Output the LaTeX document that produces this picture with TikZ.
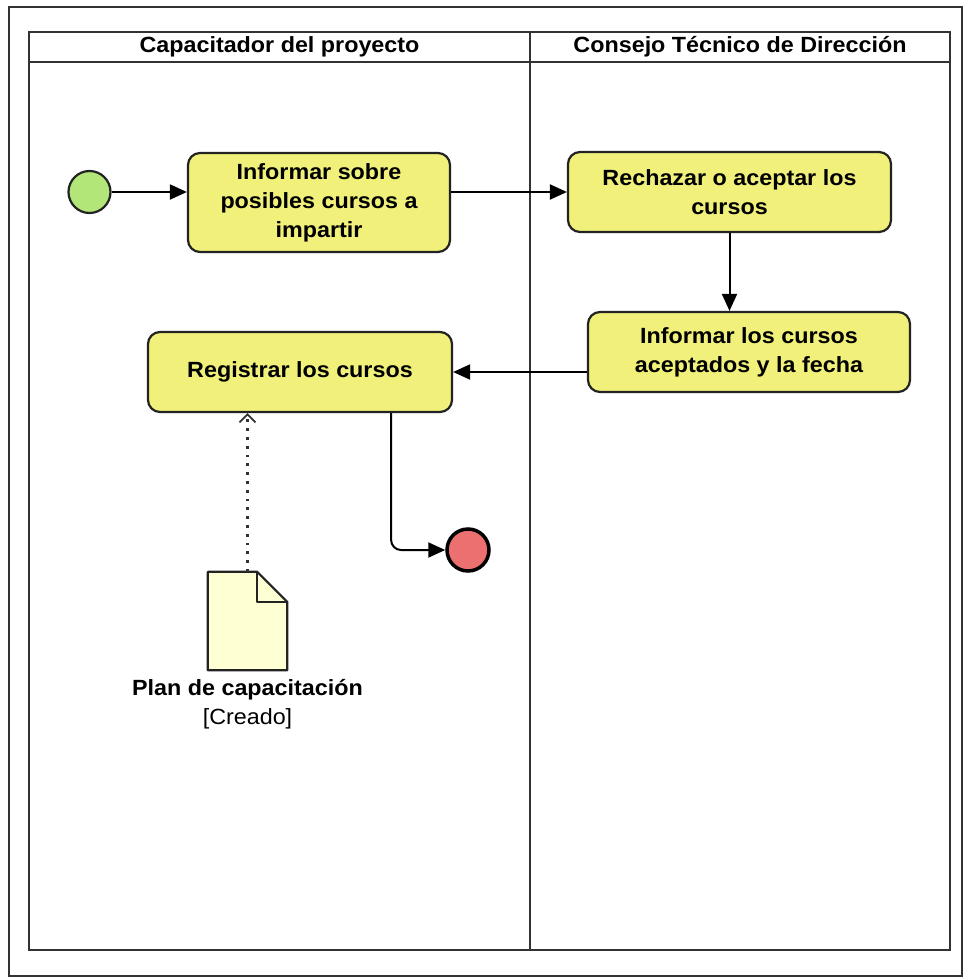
\documentclass[tikz,border=0pt]{standalone}
\usepackage{fontspec}
\setmainfont{Liberation Sans}[FakeStretch=1.06]
\usepackage{xcolor}
\usetikzlibrary{arrows.meta,positioning,calc}

\definecolor{actfill}{RGB}{240,240,122}
\definecolor{initfill}{RGB}{178,230,120}
\definecolor{finalfill}{RGB}{236,112,112}
\definecolor{docfill}{RGB}{255,255,212}
\definecolor{boxline}{RGB}{35,35,35}
\definecolor{laneline}{RGB}{50,50,50}

\begin{document}
\begin{tikzpicture}[x=1pt,y=-1pt,
	>={Triangle[length=17pt,width=15pt]},
	font=\fontsize{22}{29}\selectfont\bfseries]

	\tikzstyle{action}=[rectangle, rounded corners=12pt,
	fill=actfill, draw=boxline, line width=2.2pt, text=black,
	align=center, inner sep=0pt]
	\tikzstyle{flow}=[->, line width=2pt, draw=black]
	\tikzstyle{lane}=[line width=2.5pt, draw=laneline]

	\useasboundingbox (0,0) rectangle (967,977);

	%frame and swimlanes
	\draw[line width=2pt, draw=laneline] (9,7) rectangle (962,976);
	\draw[lane] (29,32) rectangle (950,950);
	\draw[lane] (29,62) -- (950,62);
	\draw[lane] (530,32) -- (530,950);

	\node (laneCap) at (279.5,47) {Capacitador del proyecto};
	\node (laneCons) at (740,47) {Consejo Técnico de Dirección};

	%start state
	\node[circle, minimum size=42pt, inner sep=0pt,
	fill=initfill, draw=boxline, line width=2.2pt]
	(init) at (89.5,192) {};

	\node[action, minimum width=262pt, minimum height=99pt]
	(informCourses) at (319,202.5)
	{Informar sobre\\posibles cursos a\\impartir};

	\node[action, minimum width=323pt, minimum height=80pt]
	(decideCourses) at (729.5,192)
	{Rechazar o aceptar los\\cursos};

	\node[action, minimum width=322pt, minimum height=80pt]
	(notifyCourses) at (749,352)
	{Informar los cursos\\aceptados y la fecha};

	\node[action, minimum width=304pt, minimum height=80pt]
	(registerCourses) at (300,372)
	{Registrar los cursos};

	%final state
	\node[circle, minimum size=42pt, inner sep=0pt,
	fill=finalfill, draw=black, line width=3.5pt]
	(final) at (468,550) {};

	%object node
	\node[minimum width=79pt, minimum height=98pt, inner sep=0pt]
	(plan) at (247.5,621) {};
	\draw[line width=2.2pt, draw=boxline, fill=docfill, line join=round]
		(plan.north west)
		-- ($(plan.north east) + (-30, 0)$)
		-- ($(plan.north east) + (0, 30)$)
		-- (plan.south east)
		-- (plan.south west) -- cycle;
	\draw[line width=2.2pt, draw=boxline, line join=round]
		($(plan.north east) + (-30, 0)$)
		-- ($(plan.north east) + (-30, 30)$)
		-- ($(plan.north east) + (0, 30)$);

	\node[below=9pt of plan, inner sep=0pt, align=center]
	(planLabel)
	{Plan de capacitación\\{\mdseries [Creado]}};

	\path[flow] (init) edge (init -| informCourses.west);
	\draw[flow] (decideCourses -| informCourses.east) -- (decideCourses.west);
	\draw[flow] (decideCourses.south) -- (decideCourses.south |- notifyCourses.north);
	\draw[flow] (registerCourses -| notifyCourses.west) -- (registerCourses.east);

	\draw[flow, rounded corners=10pt]
		($(registerCourses.south east) + (-62, 0)$)
		|- (final);

	\draw[line width=2.8pt, dash pattern=on 2.8pt off 6pt, draw=laneline,
		-{Straight Barb[length=8pt,width=16pt,line width=1.8pt]}]
		(plan.north) -- (plan.north |- registerCourses.south);

\end{tikzpicture}
\end{document}
